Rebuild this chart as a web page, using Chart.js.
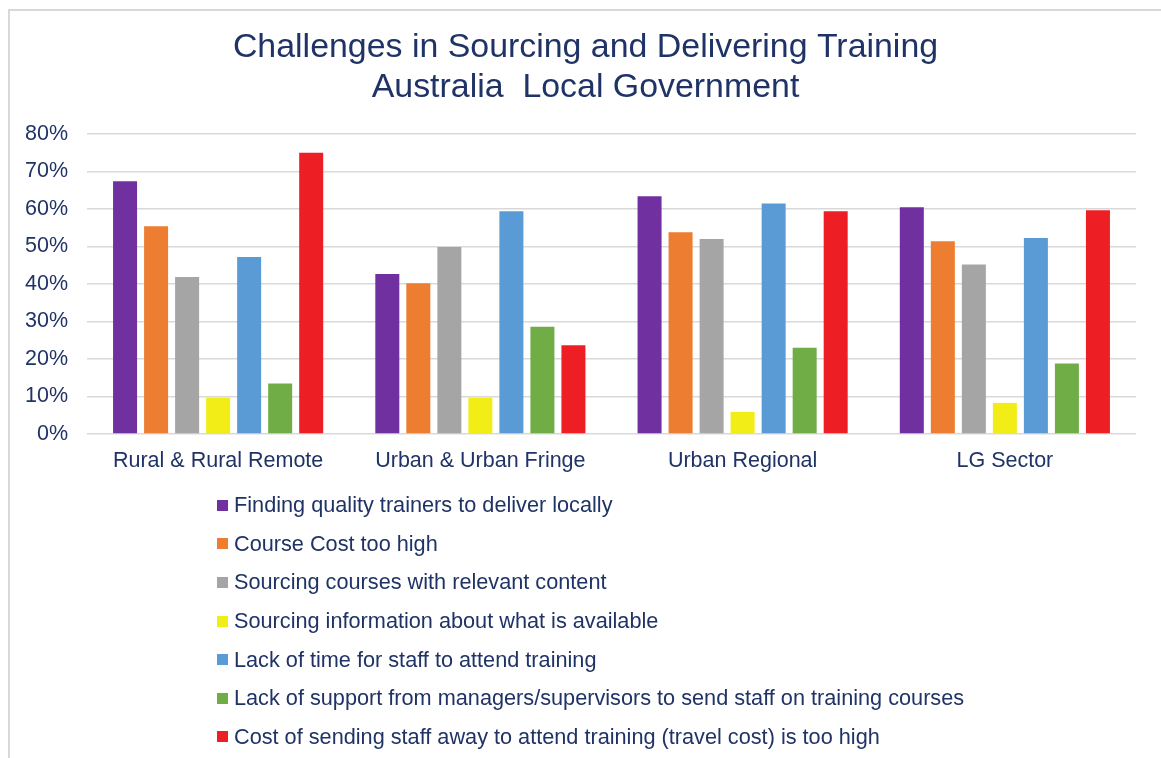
<!DOCTYPE html>
<html>
<head>
<meta charset="utf-8">
<script src="https://cdn.jsdelivr.net/npm/chart.js@4"></script>
<style>
  html, body { margin: 0; padding: 0; background: #ffffff; overflow: hidden; }
  #wrap { position: relative; width: 1161px; height: 758px; }
  #frame { position: absolute; left: 8px; top: 9px; width: 1300px; height: 900px;
           border: 2px solid #d9d9d9; pointer-events: none; }
  canvas { position: absolute; left: 0; top: 0; }
  #legend { position: absolute; left: 217px; top: 486px; font-family: "Liberation Sans", Arial, sans-serif;
            font-size: 21.7px; color: #1F3366; }
  .row { height: 38.6px; display: flex; align-items: center; white-space: nowrap; }
  .sw { width: 11px; height: 11px; margin-right: 6px; flex: none; }
</style>
</head>
<body>
<div id="wrap">
  <div id="frame"></div>
  <canvas id="c" width="1161" height="758"></canvas>
  <div id="legend"></div>
</div>
<script>
const categories = ['Rural & Rural Remote', 'Urban & Urban Fringe', 'Urban Regional', 'LG Sector'];
const seriesNames = [
  'Finding quality trainers to deliver locally',
  'Course Cost too high',
  'Sourcing courses with relevant content',
  'Sourcing information about what is available',
  'Lack of time for staff to attend training',
  'Lack of support from managers/supervisors to send staff on training courses',
  'Cost of sending staff away to attend training (travel cost) is too high'
];
const findingTrainers   = [67.4, 42.7, 63.4, 60.5];
const courseCost        = [55.4, 40.2, 53.8, 51.4];
const sourcingCourses   = [41.9, 49.9, 52.0, 45.2];
const sourcingInfo      = [9.7, 9.7, 5.9, 8.3];
const lackOfTime        = [47.2, 59.4, 61.5, 52.3];
const lackOfSupport     = [13.5, 28.6, 23.0, 18.8];
const travelCost        = [75.0, 23.7, 59.4, 59.7];
const yTickLabels = ['0%', '10%', '20%', '30%', '40%', '50%', '60%', '70%', '80%'];
const titleLines = ['Challenges in Sourcing and Delivering Training', 'Australia  Local Government'];

const colors = ['#7030A0', '#ED7D31', '#A5A5A5', '#F2EC17', '#5B9BD5', '#70AD47', '#EE1F24'];
const seriesData = [findingTrainers, courseCost, sourcingCourses, sourcingInfo, lackOfTime, lackOfSupport, travelCost];
const textColor = '#1F3366';
const fontFamily = '"Liberation Sans", Arial, sans-serif';

const datasets = seriesData.map((d, i) => ({
  label: seriesNames[i],
  data: d,
  backgroundColor: colors[i],
  borderWidth: 0,
  categoryPercentage: 0.828,
  barPercentage: 0.774
}));

const chart = new Chart(document.getElementById('c'), {
  type: 'bar',
  data: { labels: categories, datasets },
  options: {
    responsive: false,
    animation: false,
    layout: { padding: { left: 10, right: 0, top: 0, bottom: 0 } },
    plugins: {
      legend: { display: false },
      tooltip: { enabled: false },
      title: {
        display: true,
        text: titleLines,
        color: textColor,
        font: { family: fontFamily, size: 33.9, weight: 'normal', lineHeight: 40 / 33.9 },
        padding: { top: 27.5, bottom: 26.5 }
      }
    },
    scales: {
      x: {
        grid: { display: false, drawTicks: false },
        border: { display: false },
        ticks: { color: textColor, font: { family: fontFamily, size: 21.5 }, padding: 14, maxRotation: 0 },
        afterFit: (s) => { s.height = 324; }
      },
      y: {
        min: 0, max: 80,
        grid: { color: '#d9d9d9', lineWidth: 1.5, drawTicks: false },
        border: { display: false },
        ticks: {
          stepSize: 10,
          color: textColor,
          font: { family: fontFamily, size: 21.5 },
          padding: 19,
          callback: (v) => yTickLabels[Math.round(v / 10)]
        },
        afterFit: (s) => { s.width = 77; }
      },
      yRightSpace: {
        position: 'right',
        display: true,
        grid: { display: false, drawTicks: false },
        border: { display: false },
        ticks: { display: false },
        afterFit: (s) => { s.width = 25; }
      }
    }
  }
});

const legend = document.getElementById('legend');
chart.data.datasets.forEach((ds) => {
  const row = document.createElement('div');
  row.className = 'row';
  const sw = document.createElement('span');
  sw.className = 'sw';
  sw.style.background = ds.backgroundColor;
  const tx = document.createElement('span');
  tx.textContent = ds.label;
  row.appendChild(sw);
  row.appendChild(tx);
  legend.appendChild(row);
});
</script>
</body>
</html>
